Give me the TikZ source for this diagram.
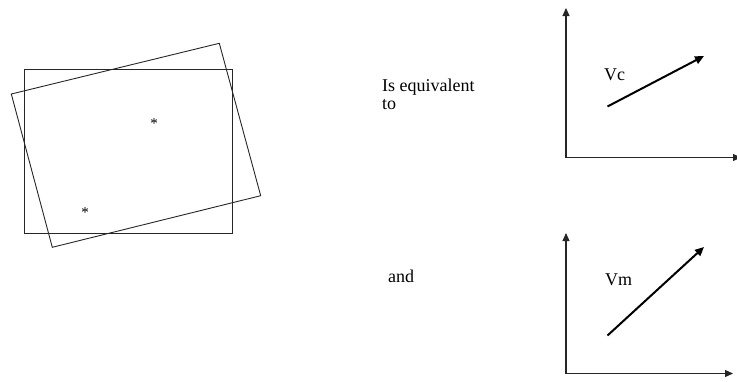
\documentclass[tikz,border=0pt]{standalone}
\usepackage{fontspec}
\setmainfont{Liberation Serif}
\usetikzlibrary{arrows.meta}
\begin{document}
\begin{tikzpicture}[x=1pt,y=-1pt,
  frame/.style={draw=black!85,line width=0.9pt},
  axis/.style={draw=black!85,line width=1.1pt,-{Triangle[length=8pt,width=7pt]}},
  vec/.style={draw=black,line width=2pt,-{Triangle[length=9pt,width=8pt]}},
  lbl/.style={inner sep=0pt,font=\fontsize{18pt}{18pt}\selectfont,anchor=base west},
  star/.style={inner sep=0pt,font=\fontsize{15pt}{15pt}\selectfont}]
\useasboundingbox (0,0) rectangle (737,381);
% axis-aligned rectangle
\coordinate (r1) at (24.3,69.3);
\coordinate (r2) at (232.7,69.3);
\coordinate (r3) at (232.7,233.3);
\coordinate (r4) at (24.3,233.3);
\draw[frame] (r1) -- (r2) -- (r3) -- (r4) -- cycle;
% rotated rectangle
\coordinate (q1) at (11.3,94);
\coordinate (q2) at (219.3,43.3);
\coordinate (q3) at (260.7,195.7);
\coordinate (q4) at (52.3,247.3);
\draw[frame] (q1) -- (q2) -- (q3) -- (q4) -- cycle;
\node[star] (s1) at (154,124) {*};
\node[star] (s2) at (85,213) {*};
% texts
\node[lbl] (eq) at (382,91) {Is equivalent};
\node[lbl] (to) at (382,109) {to};
\node[lbl] (and) at (388,282) {and};
% top graph
\coordinate (o1) at (566,157.5);
\coordinate (y1) at (566,8);
\coordinate (x1) at (741,157.5);
\draw[axis] (o1) -- (y1);
\draw[axis] (o1) -- (x1);
\coordinate (v1a) at (607.5,106.5);
\coordinate (v1b) at (704,56);
\draw[vec] (v1a) -- (v1b);
\node[lbl] (vc) at (604,80) {Vc};
% bottom graph
\coordinate (o2) at (566,373.5);
\coordinate (y2) at (566,233);
\coordinate (x2) at (733,373.5);
\draw[axis] (o2) -- (y2);
\draw[axis] (o2) -- (x2);
\coordinate (v2a) at (607.5,335.5);
\coordinate (v2b) at (704,247);
\draw[vec] (v2a) -- (v2b);
\node[lbl] (vm) at (605,285) {Vm};
\end{tikzpicture}
\end{document}
